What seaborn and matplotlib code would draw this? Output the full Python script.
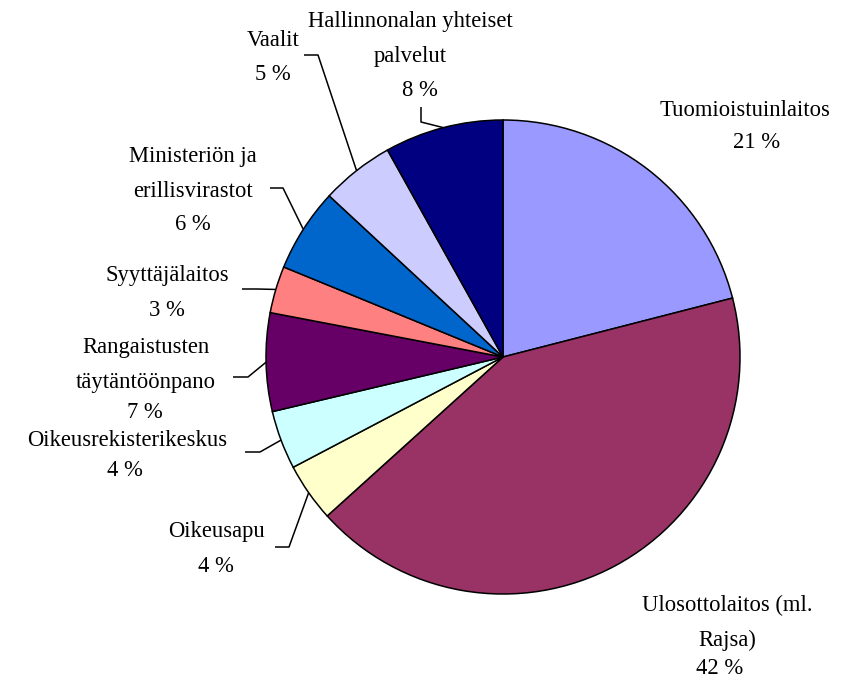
import matplotlib
matplotlib.use("Agg")
import matplotlib.pyplot as plt
import seaborn as sns
import numpy as np

# --- DATA ---
categories = [
    "Tuomioistuinlaitos",
    "Ulosottolaitos (ml.\nRajsa)",
    "Oikeusapu",
    "Oikeusrekisterikeskus",
    "Rangaistusten\ntäytäntöönpano",
    "Syyttäjälaitos",
    "Ministeriön ja\nerillisvirastot",
    "Vaalit",
    "Hallinnonalan yhteiset\npalvelut",
]
shares = [21.0, 42.3, 4.0, 4.0, 6.7, 3.2, 5.7, 5.0, 8.1]
colors = ["#9999FF", "#993366", "#FFFFCC", "#CCFFFF", "#660066",
          "#FF8080", "#0066CC", "#CCCCFF", "#000080"]

# --- LAYOUT (pixel coords, y from top) ---
W, H = 857, 677
center = (503, 357)
radius = 237
name_pos = [(745, 110), (727, 623), (217, 531), (127, 440),
            (146, 365), (167, 275), (193, 174), (273, 40), (410, 39)]
pct_pos = [(757, 143), (720, 668), (216, 566), (125, 470),
           (145, 413), (167, 310), (193, 225), (273, 75), (420, 90)]
# elbow of the leader line: (text side point, bend point); None = no leader
leaders = [None, None, ((275, 547), (289, 547)), ((245, 452), (260, 452)),
           ((233, 377), (248, 377)), ((242, 289), (257, 289)),
           ((270, 188), (283, 188)), ((304, 55), (318, 55)),
           ((421, 107), (421, 122))]

sns.set_style("white")
plt.rcParams['font.family'] = ['Liberation Serif', 'DejaVu Serif']
plt.rcParams['text.color'] = 'black'

fig = plt.figure(figsize=(W / 100, H / 100), dpi=100)
ax = fig.add_axes([0, 0, 1, 1])

def fy(y):
    return H - y

wedges, _ = ax.pie(shares, colors=colors, startangle=90, counterclock=False,
                   center=(center[0], fy(center[1])), radius=radius,
                   wedgeprops=dict(edgecolor="black", linewidth=1.1))
ax.set_xlim(0, W)
ax.set_ylim(0, H)
ax.set_aspect("equal")
ax.axis("off")

for i, (name, val) in enumerate(zip(categories, shares)):
    nx, ny = name_pos[i]
    px, py = pct_pos[i]
    ax.text(nx, fy(ny), name, ha="center", va="center", fontsize=16.3,
            linespacing=1.85, color="black")
    ax.text(px, fy(py), f"{round(val)} %", ha="center", va="center",
            fontsize=16.3, color="black")
    if leaders[i] is not None:
        w = wedges[i]
        mid = np.deg2rad((w.theta1 + w.theta2) / 2)
        ex = center[0] + radius * np.cos(mid)
        ey = fy(center[1]) + radius * np.sin(mid)
        (x0, y0), (x1, y1) = leaders[i]
        ax.plot([x0, x1, ex], [fy(y0), fy(y1), ey], color="black", lw=1.1,
                solid_capstyle="butt")

plt.savefig("out.png", dpi=100, facecolor="white")
